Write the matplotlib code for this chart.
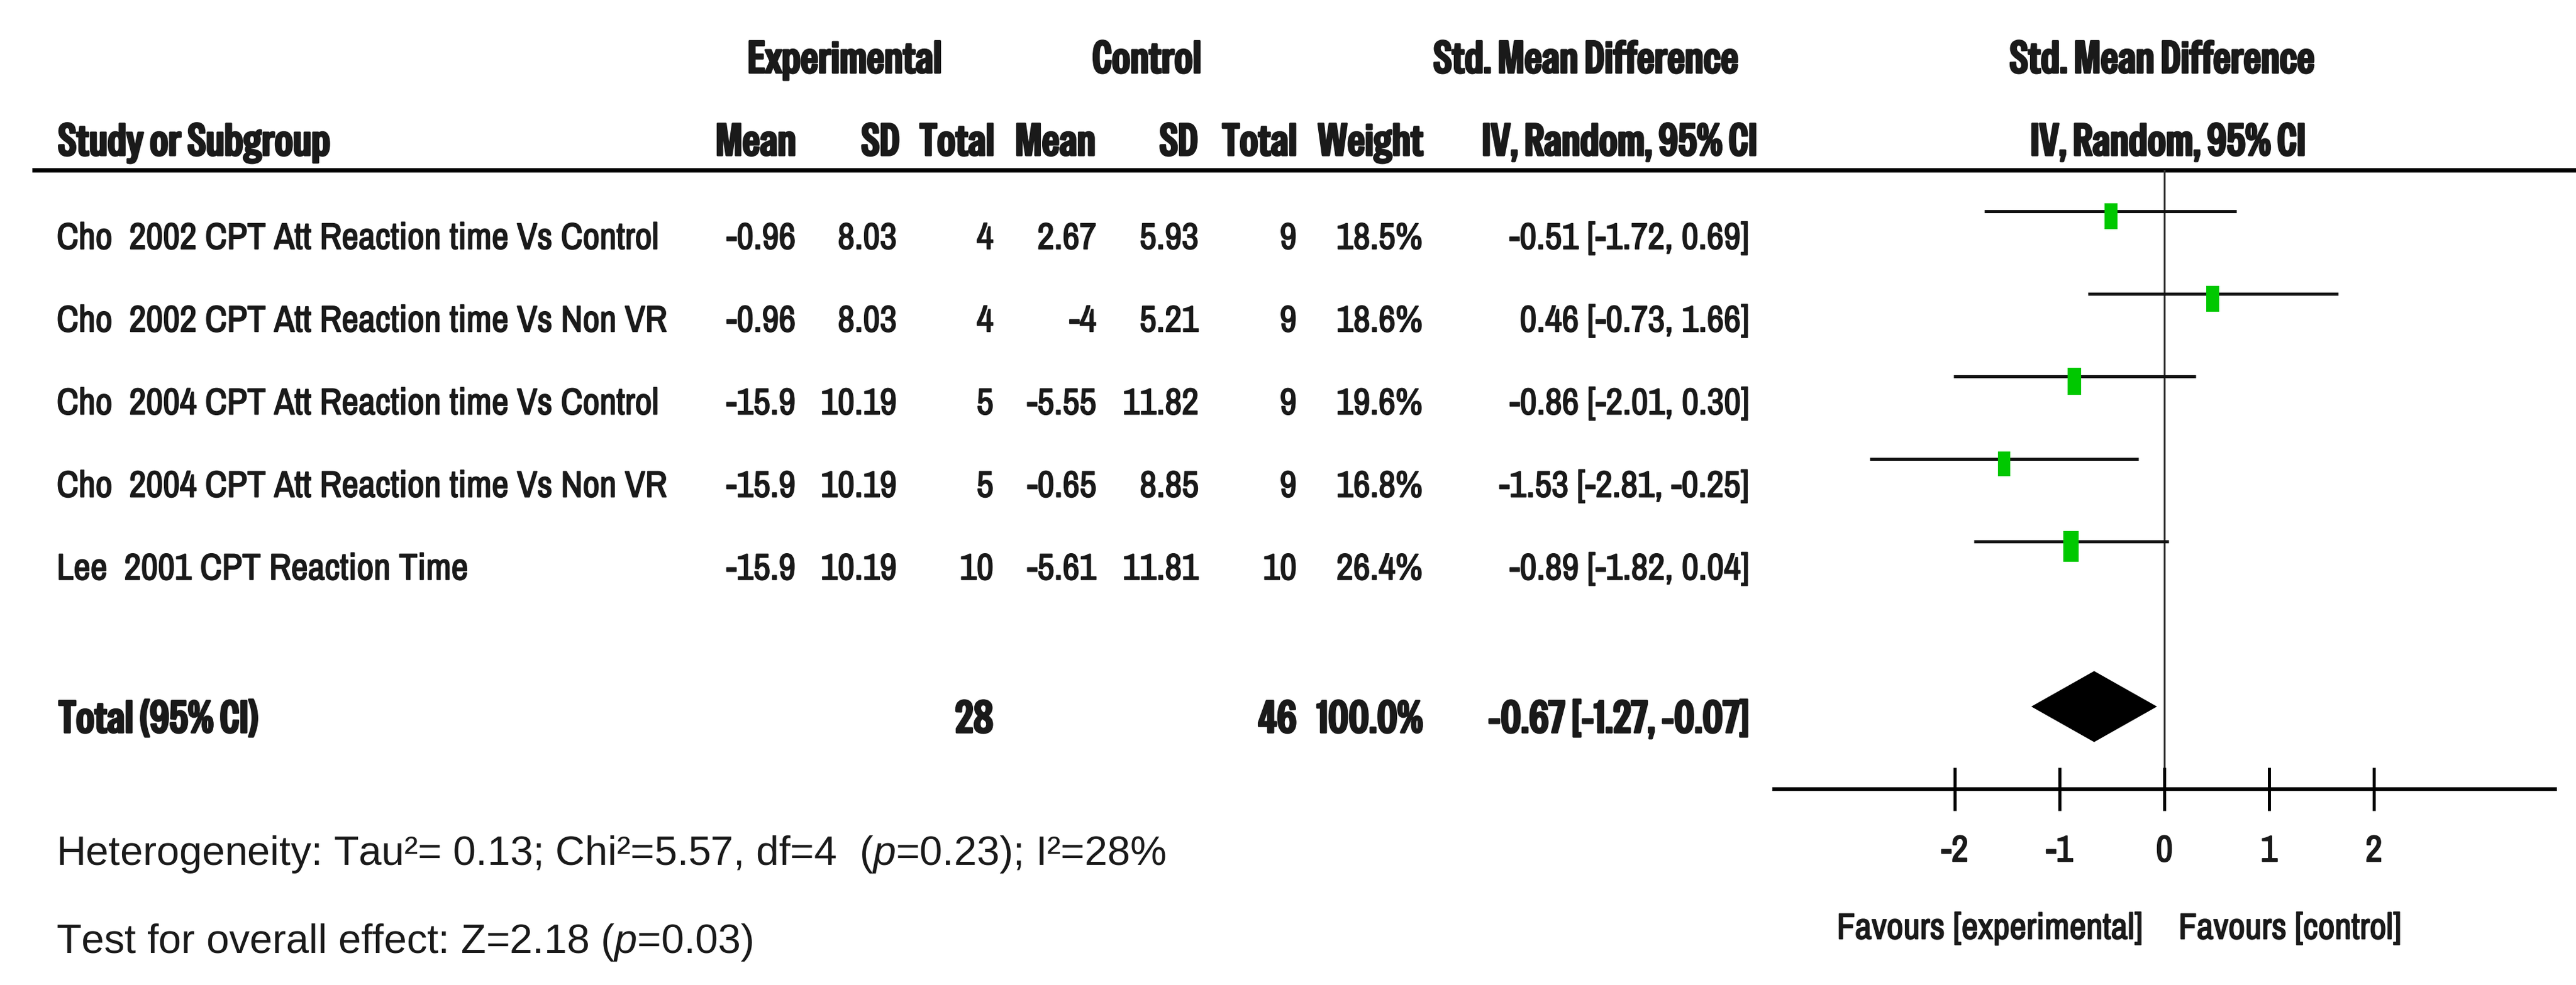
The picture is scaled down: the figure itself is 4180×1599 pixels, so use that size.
import numpy as np
import matplotlib
matplotlib.use('Agg')
import matplotlib.pyplot as plt
import matplotlib.patheffects as pe
from matplotlib.patches import Rectangle, Polygon
from matplotlib import font_manager

# data
studies = ['Cho  2002 CPT Att Reaction time Vs Control',
           'Cho  2002 CPT Att Reaction time Vs Non VR',
           'Cho  2004 CPT Att Reaction time Vs Control',
           'Cho  2004 CPT Att Reaction time Vs Non VR',
           'Lee  2001 CPT Reaction Time']
exp_mean = [-0.96, -0.96, -15.9, -15.9, -15.9]
exp_sd = [8.03, 8.03, 10.19, 10.19, 10.19]
exp_n = [4, 4, 5, 5, 10]
ctl_mean = [2.67, -4, -5.55, -0.65, -5.61]
ctl_sd = [5.93, 5.21, 11.82, 8.85, 11.81]
ctl_n = [9, 9, 9, 9, 10]
weights = [18.5, 18.6, 19.6, 16.8, 26.4]
smd = [-0.51, 0.46, -0.86, -1.53, -0.89]
ci_lo = [-1.72, -0.73, -2.01, -2.81, -1.82]
ci_hi = [0.69, 1.66, 0.30, -0.25, 0.04]
total_exp_n = 28
total_ctl_n = 46
total_weight = 100.0
total_smd = -0.67
total_lo = -1.27
total_hi = -0.07
xticks = [-2, -1, 0, 1, 2]
heterogeneity = 'Heterogeneity: Tau\u00b2= 0.13; Chi\u00b2=5.57, df=4  ($p$=0.23); I\u00b2=28%'
overall = 'Test for overall effect: Z=2.18 ($p$=0.03)'


def num(v, table, default):
    if isinstance(v, str):
        return table.get(v, default)
    return v


W, H = 4180, 1599
fig = plt.figure(figsize=(W / 100, H / 100), dpi=100)
renderer = fig.canvas.get_renderer()

# background axes in pixel units for the table part
bg = fig.add_axes([0, 0, 1, 1])
bg.set_xlim(0, W)
bg.set_ylim(H, 0)
bg.axis('off')


def width_of(s, family, stretch, size=40, bold=False):
    tmp = bg.text(0, 0, s, fontsize=size, family=[family, 'DejaVu Sans'], stretch=stretch,
                  fontweight='bold' if bold else 'normal')
    w = tmp.get_window_extent(renderer).width
    tmp.remove()
    return w


# condensed fonts: a lighter one for plain text, the narrowest one for bold headers
faces = {}
REGN, REGN_ST = 'Liberation Sans', 'normal'
first = True
for f in font_manager.fontManager.ttflist:
    nm = f.name
    if f.style != 'normal' or any(k in nm for k in ['Mono', 'Serif', 'CJK']):
        continue
    faces.setdefault((nm, f.stretch), set()).add(num(f.weight, font_manager.weight_dict, 400))
    if first and ('Narrow' in nm or 'Condensed' in nm):
        REGN, REGN_ST, first = nm, f.stretch, False

BOLDN, BOLDN_ST, HAS_BOLD = REGN, REGN_ST, True
best_w = width_of('Reaction time Vs Control', REGN, REGN_ST) + 1e6
for (nm, st), ws in faces.items():
    if not ('Narrow' in nm or 'Condensed' in nm or num(st, font_manager.stretch_dict, 500) <= 300):
        continue
    if any(k in nm for k in ['Light', 'Thin', 'Black', 'Medium', 'Semi', 'Extra', 'Ultra']):
        continue
    if 400 not in ws:
        continue
    w = width_of('Reaction time Vs Control', nm, st)
    if w < best_w - 1:
        BOLDN, BOLDN_ST, best_w = nm, st, w
        HAS_BOLD = any(v >= 600 for v in ws)

REG = 'Liberation Sans'
plt.rcParams['mathtext.fontset'] = 'custom'
plt.rcParams['mathtext.it'] = 'Liberation Sans:italic'
plt.rcParams['mathtext.rm'] = 'Liberation Sans'

TXT = '#1a1a1a'
FAKE_BOLD = [] if HAS_BOLD else [pe.withStroke(linewidth=2.4, foreground=TXT)]
PLAIN = [pe.withStroke(linewidth=1.4, foreground=TXT)]


def fit(s, width, bold=False, family=None, stretch=None, cap=52):
    # font size that makes s about `width` pixels wide
    if family is None:
        family, stretch = (BOLDN, BOLDN_ST) if bold else (REGN, REGN_ST)
    w = width_of(s, family, stretch, bold=bold and HAS_BOLD)
    return min(cap, 40 * width / w)


FS = fit(studies[0], 977)
FSB = fit('Study or Subgroup', 448, bold=True)
FSR = fit(heterogeneity, 1800, family=REG, stretch='normal', cap=48)
FSF = fit('Favours [experimental]', 497)


def t(x, y, s, ha='left', bold=False, family=None, size=None, va='baseline', stretch=None,
      effects=None):
    if size is None:
        size = FSB if bold else FS
    if family is None:
        family, stretch = (BOLDN, BOLDN_ST) if bold else (REGN, REGN_ST)
    if effects is None:
        effects = FAKE_BOLD if bold else PLAIN
    bg.text(x, y, s, ha=ha, va=va, color=TXT, fontsize=size,
            family=[family, 'DejaVu Sans'], stretch=stretch,
            fontweight='bold' if bold else 'normal', path_effects=effects)


# headers
t(1371, 118, 'Experimental', ha='center', bold=True)
t(1861, 118, 'Control', ha='center', bold=True)
t(2574, 118, 'Std. Mean Difference', ha='center', bold=True)
t(3509, 118, 'Std. Mean Difference', ha='center', bold=True)
t(94, 252, 'Study or Subgroup', bold=True)
t(1292, 252, 'Mean', ha='right', bold=True)
t(1460, 252, 'SD', ha='right', bold=True)
t(1614, 252, 'Total', ha='right', bold=True)
t(1778, 252, 'Mean', ha='right', bold=True)
t(1944, 252, 'SD', ha='right', bold=True)
t(2105, 252, 'Total', ha='right', bold=True)
t(2310, 252, 'Weight', ha='right', bold=True)
t(2628, 252, 'IV, Random, 95% CI', ha='center', bold=True)
t(3518, 252, 'IV, Random, 95% CI', ha='center', bold=True)
bg.plot([52, W], [276, 276], color='black', lw=5.2, solid_capstyle='butt')

# study rows
col_right = [1291, 1455, 1612, 1779, 1945, 2104, 2308, 2838]
for i, name in enumerate(studies):
    yb = 404 + 134.2 * i
    t(92, yb, name)
    vals = ['{:g}'.format(exp_mean[i]), '{:g}'.format(exp_sd[i]), str(exp_n[i]),
            '{:g}'.format(ctl_mean[i]), '{:g}'.format(ctl_sd[i]), str(ctl_n[i]),
            '{:.1f}%'.format(weights[i]),
            '{:.2f} [{:.2f}, {:.2f}]'.format(smd[i], ci_lo[i], ci_hi[i])]
    for xr, v in zip(col_right, vals):
        t(xr, yb, v, ha='right')

# total row
t(95, 1189, 'Total (95% CI)', bold=True)
t(1612, 1189, str(total_exp_n), ha='right', bold=True)
t(2104, 1189, str(total_ctl_n), ha='right', bold=True)
t(2308, 1189, '{:.1f}%'.format(total_weight), ha='right', bold=True)
t(2838, 1189, '{:.2f} [{:.2f}, {:.2f}]'.format(total_smd, total_lo, total_hi), ha='right', bold=True)

t(91, 1404, heterogeneity, family=REG, size=FSR, stretch='normal', effects=[])
t(91, 1547, overall, family=REG, size=FSR, stretch='normal', effects=[])

# forest plot axes
px0, px1 = 2879, 4146
zero_px, unit = 3512, 170.0
ytop, ybot = 276, 1281
ax = fig.add_axes([px0 / W, 1 - ybot / H, (px1 - px0) / W, (ybot - ytop) / H])
ax.set_xlim((px0 - zero_px) / unit, (px1 - zero_px) / unit)
ax.set_ylim(7, -0.5)
ax.patch.set_alpha(0)
for s in ['top', 'left', 'right']:
    ax.spines[s].set_visible(False)
ax.spines['bottom'].set_linewidth(4.3)
ax.set_yticks([])
ax.set_xticks(xticks)
ax.set_xticklabels([str(v) for v in xticks], family=[REGN, 'DejaVu Sans'],
                   stretch=REGN_ST, fontsize=FS, color=TXT)
for lab in ax.get_xticklabels():
    lab.set_path_effects(PLAIN)
ax.tick_params(axis='x', direction='inout', length=51, width=3.6, pad=28, color='black')

ax.axvline(0, color='#333333', lw=2.2, zorder=1)

rows = np.arange(len(studies))
ax.hlines(rows, ci_lo, ci_hi, color='#111111', lw=3.6, zorder=2)
for r, m, w in zip(rows, smd, weights):
    bw = 0.1235 * np.sqrt(w / 18.5)
    bh = 0.314 * np.sqrt(w / 18.5)
    ax.add_patch(Rectangle((m - bw / 2, r - bh / 2 + 0.06), bw, bh,
                           facecolor='#00c800', edgecolor='none', zorder=3))

dh = 0.43
ax.add_patch(Polygon([[total_lo, 6], [total_smd, 6 - dh], [total_hi, 6], [total_smd, 6 + dh]],
                     closed=True, facecolor='black', edgecolor='none', zorder=3))

t(3477, 1524, 'Favours [experimental]', ha='right', size=FSF)
t(3535, 1524, 'Favours [control]', size=FSF)

fig.savefig('out.png', dpi=100)
